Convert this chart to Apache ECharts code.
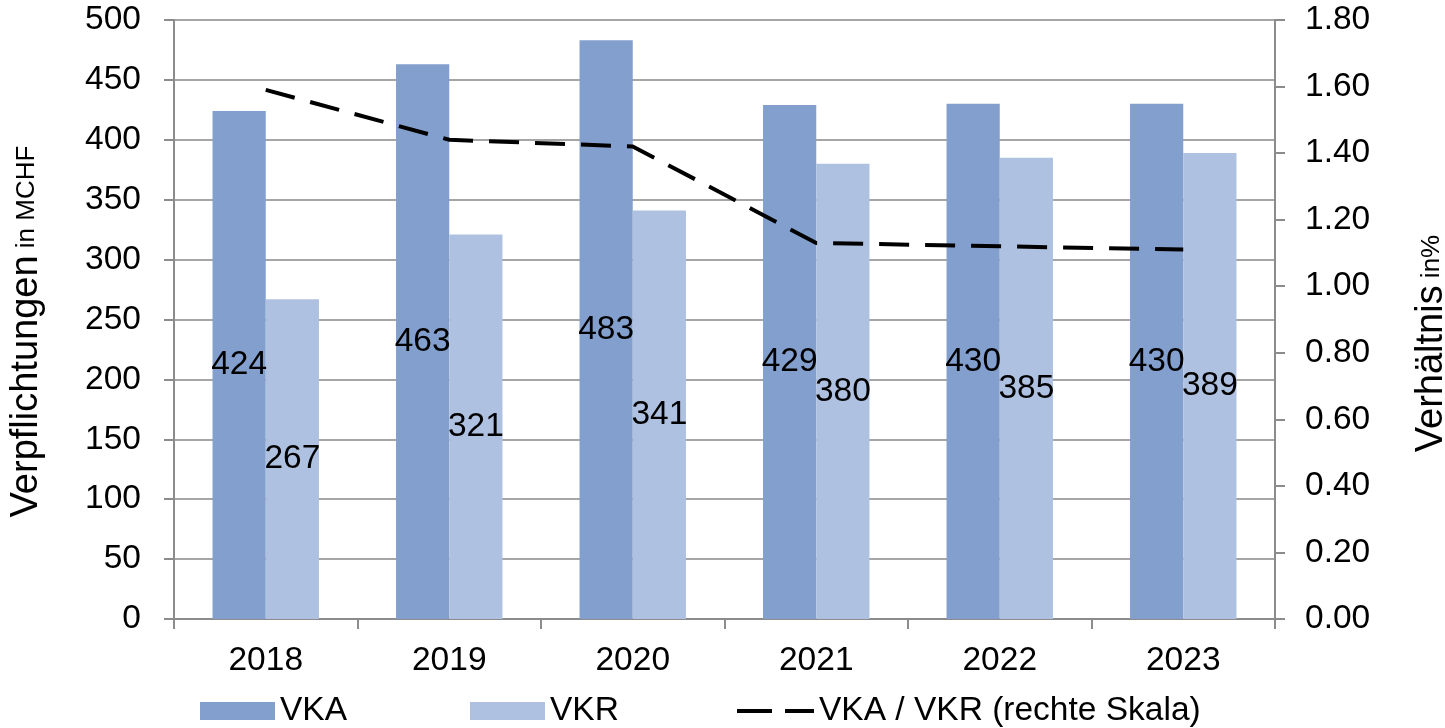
<!DOCTYPE html>
<html>
<head>
<meta charset="utf-8">
<script src="https://cdn.jsdelivr.net/npm/echarts@6/dist/echarts.min.js"></script>
<style>
html, body { margin: 0; padding: 0; background: #fff; }
#chart { width: 1445px; height: 728px; }
</style>
</head>
<body>
<div id="chart"></div>
<script>
var years = ['2018', '2019', '2020', '2021', '2022', '2023'];
var vka = [424, 463, 483, 429, 430, 430];
var vkr = [267, 321, 341, 380, 385, 389];
var ratio = [1.59, 1.44, 1.42, 1.13, 1.12, 1.11];

var myChart = echarts.init(document.getElementById('chart'));
var font = 'Liberation Sans, Arial, sans-serif';
var axisGray = '#8c8c8c';
var fs = 33.5;

var legendBase = {
    top: 694,
    padding: 0,
    itemWidth: 75, itemHeight: 18,
    textStyle: { fontSize: fs, color: '#000', fontFamily: font }
};

var option = {
    animation: false,
    textStyle: { fontFamily: font },
    grid: { left: 174, right: 170, top: 20, bottom: 109, outerBoundsMode: 'none', containLabel: false },
    legend: [
        Object.assign({}, legendBase, { left: 200, data: [{ name: 'VKA', icon: 'rect' }] }),
        Object.assign({}, legendBase, { left: 470, data: [{ name: 'VKR', icon: 'rect' }] }),
        Object.assign({}, legendBase, {
            left: 737,
            itemWidth: 77, itemHeight: 4,
            data: [{ name: 'VKA / VKR (rechte Skala)', icon: 'path://M0,0H35V4H0Z M48,0H77V4H48Z' }]
        })
    ],
    xAxis: {
        type: 'category',
        data: years,
        axisLine: { lineStyle: { color: axisGray, width: 2 } },
        axisTick: { show: true, length: 10, lineStyle: { color: axisGray, width: 2 } },
        axisLabel: { fontSize: fs, color: '#000', margin: 25 }
    },
    yAxis: [{
        type: 'value',
        min: 0, max: 500, interval: 50,
        name: '{a|Verpflichtungen}{b| in MCHF}',
        nameLocation: 'middle',
        nameGap: 128,
        nameTextStyle: {
            padding: [0, 24, 0, 0],
            rich: {
                a: { fontSize: 38, color: '#000', fontFamily: font },
                b: { fontSize: 26, color: '#000', fontFamily: font }
            }
        },
        axisLine: { show: true, lineStyle: { color: axisGray, width: 2 } },
        axisTick: { show: true, length: 10, lineStyle: { color: axisGray, width: 2 } },
        axisLabel: { fontSize: fs, color: '#000', margin: 33 },
        splitLine: { lineStyle: { color: '#a6a6a6', width: 2 } }
    }, {
        type: 'value',
        min: 0, max: 1.8, interval: 0.2,
        name: '{a|Verhältnis}{b| in%}',
        nameLocation: 'middle',
        nameRotate: 90,
        nameGap: 138,
        nameTextStyle: {
            padding: [0, 48, 0, 0],
            rich: {
                a: { fontSize: 38, color: '#000', fontFamily: font },
                b: { fontSize: 26, color: '#000', fontFamily: font }
            }
        },
        axisLine: { show: true, lineStyle: { color: axisGray, width: 2 } },
        axisTick: { show: true, length: 10, lineStyle: { color: axisGray, width: 2 } },
        axisLabel: {
            fontSize: fs, color: '#000', margin: 30,
            formatter: function (v) { return v.toFixed(2); }
        },
        splitLine: { show: false }
    }],
    series: [{
        name: 'VKA',
        type: 'bar',
        data: vka,
        barGap: 0,
        barCategoryGap: '42%',
        itemStyle: { color: '#829fcd' },
        label: { show: true, position: 'inside', fontSize: fs, color: '#000' }
    }, {
        name: 'VKR',
        type: 'bar',
        data: vkr,
        itemStyle: { color: '#afc1e0' },
        label: { show: true, position: 'inside', fontSize: fs, color: '#000' }
    }, {
        name: 'VKA / VKR (rechte Skala)',
        type: 'line',
        yAxisIndex: 1,
        data: ratio,
        symbol: 'none',
        itemStyle: { color: '#000' },
        lineStyle: { color: '#000', width: 4, type: [30, 16] }
    }]
};

myChart.setOption(option);
</script>
</body>
</html>
